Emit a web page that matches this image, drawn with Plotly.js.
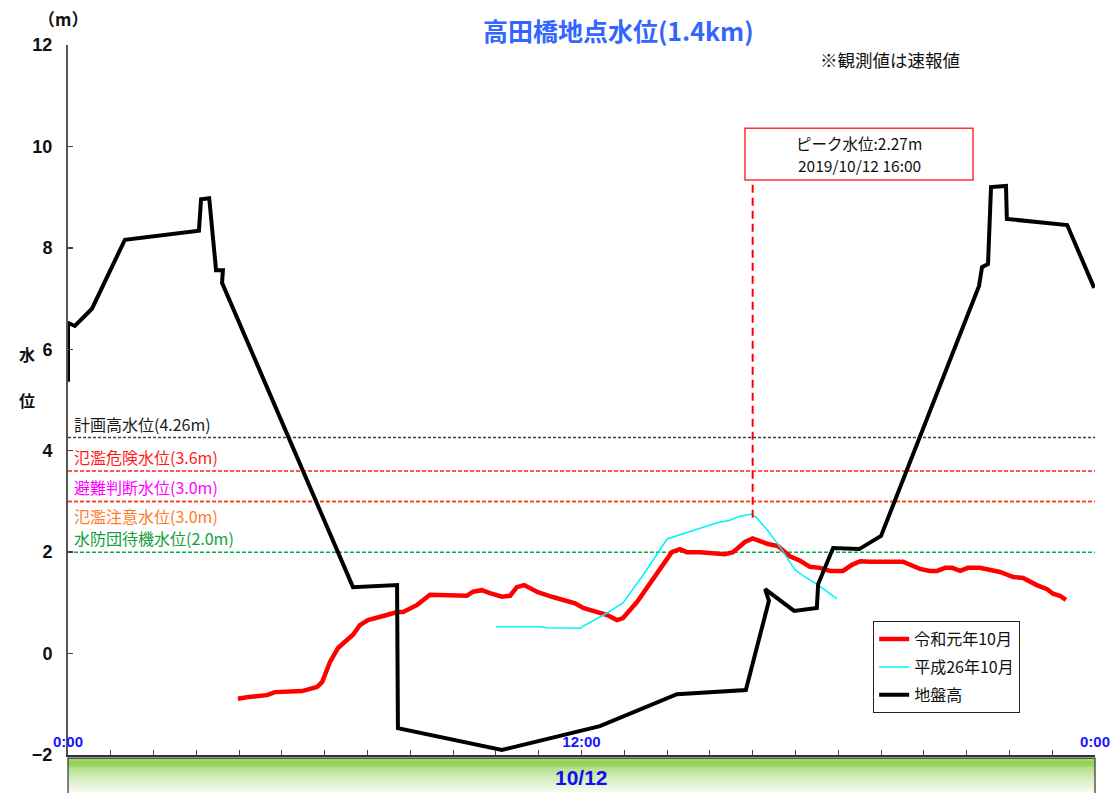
<!DOCTYPE html>
<html>
<head>
<meta charset="utf-8">
<script src="https://cdn.plot.ly/plotly-3.0.1.min.js"></script>
<style>html,body{margin:0;padding:0;background:#fff;}#chart{width:1118px;height:793px;}</style>
</head>
<body>
<div id="chart"></div>
<script>
// ---------- data ----------
const chartTitle = "高田橋地点水位(1.4km)";
const noteText = "※観測値は速報値";
const dateLabel = "10/12";

// 令和元年10月 (hours from 0:00, water level m)
const hoursReiwa = [3.97,4.18,4.65,4.84,5.47,5.82,5.94,6.12,6.31,6.66,6.82,7.01,7.45,7.69,7.83,8.16,8.46,8.69,8.86,9.32,9.47,9.67,9.86,10.14,10.33,10.49,10.66,10.98,11.31,11.66,11.85,12.04,12.36,12.60,12.83,12.97,13.30,13.60,13.91,14.11,14.30,14.46,14.77,15.07,15.35,15.54,15.66,15.82,16.00,16.17,16.36,16.59,16.87,17.11,17.34,17.57,17.81,18.11,18.32,18.51,18.74,19.51,19.63,19.91,20.14,20.31,20.50,20.66,20.85,21.03,21.31,21.78,22.09,22.32,22.64,22.88,23.02,23.18,23.32];
const levelReiwa = [-0.89,-0.86,-0.82,-0.76,-0.74,-0.66,-0.56,-0.17,0.11,0.37,0.56,0.66,0.76,0.82,0.82,0.96,1.16,1.16,1.14,1.14,1.22,1.25,1.19,1.12,1.14,1.31,1.35,1.21,1.12,1.04,0.99,0.90,0.82,0.76,0.66,0.70,1.02,1.39,1.79,2.00,2.06,2.00,2.00,1.98,1.96,2.00,2.08,2.20,2.27,2.22,2.16,2.12,1.92,1.83,1.71,1.69,1.63,1.63,1.75,1.82,1.81,1.81,1.77,1.67,1.63,1.63,1.69,1.69,1.63,1.69,1.69,1.61,1.51,1.49,1.35,1.27,1.18,1.14,1.06];

// 平成26年10月
const hoursHeisei = [10.0,11.03,11.2,11.97,12.04,12.27,12.60,12.97,13.44,14.0,14.30,14.77,15.17,15.47,15.66,15.98,16.1,16.34,16.64,16.99,17.22,17.50,17.97];
const levelHeisei = [0.53,0.53,0.51,0.50,0.54,0.64,0.80,1.00,1.55,2.26,2.34,2.47,2.58,2.63,2.70,2.75,2.67,2.44,2.10,1.65,1.51,1.37,1.08];

// 地盤高 (cross-section drawn on the same horizontal scale)
const groundX = [0,0,0.16,0.56,1.33,3.06,3.11,3.30,3.46,3.62,3.60,6.66,7.69,7.71,10.14,12.43,14.23,15.84,16.38,16.29,16.97,17.50,17.53,17.88,18.49,19.00,21.29,21.36,21.50,21.57,21.92,21.94,23.35,23.98];
const groundElevation = [5.36,6.52,6.46,6.80,8.16,8.34,8.96,8.98,7.56,7.56,7.31,1.31,1.35,-1.47,-1.90,-1.43,-0.80,-0.72,1.04,1.27,0.84,0.90,1.37,2.08,2.06,2.32,7.25,7.62,7.68,9.20,9.22,8.57,8.45,7.21];

const seriesNames = ["令和元年10月", "平成26年10月", "地盤高"];

// reference levels
const thresholdValues = [4.26, 3.6, 3.0, 3.0, 2.0];
const thresholdLabels = ["計画高水位(4.26m)", "氾濫危険水位(3.6m)", "避難判断水位(3.0m)", "氾濫注意水位(3.0m)", "水防団待機水位(2.0m)"];

// peak
const peakHour = 16;
const peakLevel = 2.27;
const peakLines = ["ピーク水位:" + peakLevel.toFixed(2) + "m", "2019/10/12 16:00"];

// axes
const xTickVals = [0,1,2,3,4,5,6,7,8,9,10,11,12,13,14,15,16,17,18,19,20,21,22,23,24];
const xTickText = ["0:00","","","","","","","","","","","","12:00","","","","","","","","","","","","0:00"];
const yTickVals = [-2,0,2,4,6,8,10,12];

// ---------- styles ----------
const jp = "Noto Sans CJK JP, sans-serif";
const lat = "Liberation Sans, Arial, sans-serif";
const thresholdLineColors = ["#444444", "#ff2020", "#ff4020", "#ff4020", "#00b050"];
const labelColors = ["#1a1a1a", "#ff1a1a", "#ff00ff", "#ff7a2a", "#10a040"];
const labelAbove = [true, true, true, false, true];

const traces = [
  {x: hoursReiwa, y: levelReiwa, name: seriesNames[0], mode: "lines", legendgroup: "a",
   line: {color: "#ff0000", width: 4.5}},
  {x: hoursHeisei, y: levelHeisei, name: seriesNames[1], mode: "lines", legendgroup: "b",
   line: {color: "#00f2ff", width: 1.5}},
  {x: groundX, y: groundElevation, name: seriesNames[2], mode: "lines", legendgroup: "c",
   line: {color: "#000000", width: 4}}
];

const shapes = [];
thresholdValues.forEach((v, i) => {
  shapes.push({type: "line", xref: "paper", x0: 0, x1: 1, yref: "y", y0: v, y1: v,
    layer: "below", line: {color: thresholdLineColors[i], width: 1.5, dash: i === 0 ? "3px,2px" : "4px,2px"}});
});
// peak marker line and callout box
shapes.push({type: "line", xref: "x", x0: peakHour, x1: peakHour, yref: "y", y0: 2.68, y1: 9.34,
  line: {color: "#ff0000", width: 2, dash: "8px,5px"}});
shapes.push({type: "rect", xref: "x", yref: "y", x0: 15.82, x1: 21.15, y0: 9.34, y1: 10.36,
  fillcolor: "#ffffff", line: {color: "#ff3030", width: 1.5}});

// date band below the axis (vertical gradient strips)
const bandTop = -0.0045, bandBottom = -0.0535, N = 36;
const c0 = [140, 205, 75], c1 = [250, 253, 248];
for (let i = 0; i < N; i++) {
  const t = i / (N - 1);
  const c = c0.map((a, k) => Math.round(a + (c1[k] - a) * Math.pow(t, 1.15)));
  const y0 = bandTop + (bandBottom - bandTop) * i / N;
  const y1 = bandTop + (bandBottom - bandTop) * (i + 1) / N;
  shapes.push({type: "rect", xref: "paper", yref: "paper", x0: 0, x1: 1, y0: y1, y1: y0,
    fillcolor: "rgb(" + c.join(",") + ")", line: {width: 0}, layer: "above"});
}
shapes.push({type: "rect", xref: "paper", yref: "paper", x0: 0, x1: 1, y0: bandBottom - 0.01, y1: bandTop,
  fillcolor: "rgba(0,0,0,0)", line: {color: "#333", width: 1.2}, layer: "above"});

const annotations = [];
thresholdValues.forEach((v, i) => {
  annotations.push({xref: "paper", x: 0, xshift: 4, xanchor: "left", yref: "y", y: v,
    yanchor: labelAbove[i] ? "bottom" : "top", yshift: labelAbove[i] ? 0 : -1,
    text: thresholdLabels[i], showarrow: false, font: {family: jp, size: 16, color: labelColors[i]}});
});
annotations.push({xref: "x", yref: "y", x: 18.49, y: 9.85, yshift: 11, xanchor: "center", yanchor: "middle",
  text: peakLines[0], showarrow: false, font: {family: jp, size: 15.5, color: "#111"}});
annotations.push({xref: "x", yref: "y", x: 18.49, y: 9.85, yshift: -11, xanchor: "center", yanchor: "middle",
  text: peakLines[1], showarrow: false, font: {family: jp, size: 15.5, color: "#111"}});
annotations.push({xref: "paper", yref: "paper", x: 0.800, y: 0.979, xanchor: "center", yanchor: "middle",
  text: noteText, showarrow: false, font: {family: jp, size: 17.5, color: "#111"}});
annotations.push({xref: "paper", yref: "paper", x: 0, xshift: -5, y: 1, yshift: 27, xanchor: "center",
  yanchor: "middle", text: "（m）", showarrow: false, font: {family: jp, size: 17, color: "#111", weight: 700}});
annotations.push({xref: "paper", yref: "paper", x: 0, xshift: -51, y: 0.565, text: "水", showarrow: false,
  font: {family: jp, size: 16, color: "#111", weight: 700}});
annotations.push({xref: "paper", yref: "paper", x: 0, xshift: -51, y: 0.500, text: "位", showarrow: false,
  font: {family: jp, size: 16, color: "#111", weight: 700}});
annotations.push({xref: "paper", yref: "paper", x: 0.5, y: -0.032, xanchor: "center", yanchor: "middle",
  text: dateLabel, showarrow: false, font: {family: lat, size: 21, color: "#1010ee", weight: 700}});

const layout = {
  width: 1118, height: 793,
  margin: {l: 68, r: 23, t: 45, b: 38, pad: 0},
  paper_bgcolor: "#ffffff", plot_bgcolor: "#ffffff",
  title: {text: chartTitle, xref: "container", x: 0.553, y: 0.959, yanchor: "middle",
    font: {family: jp, size: 25, color: "#3366ff", weight: 700}},
  showlegend: true,
  legend: {x: 0.7838, y: 0.1887, xanchor: "left", yanchor: "top", traceorder: "grouped",
    tracegroupgap: 4, bgcolor: "#ffffff", bordercolor: "#222", borderwidth: 1.2,
    font: {family: jp, size: 16, color: "#111"}, itemwidth: 30},
  xaxis: {range: [0, 24], tickmode: "array", tickvals: xTickVals, ticktext: xTickText,
    ticks: "inside", ticklen: 5, tickwidth: 1, tickcolor: "#444",
    ticklabelposition: "inside", ticklabeloverflow: "allow",
    tickfont: {family: lat, size: 15, color: "#1515ff", weight: 700},
    showline: true, linecolor: "#333", linewidth: 2, showgrid: false, zeroline: false,
    fixedrange: true},
  yaxis: {range: [-2, 12], tickmode: "array", tickvals: yTickVals,
    ticks: "inside", ticklen: 5, tickwidth: 1.5, tickcolor: "#444", ticklabelstandoff: 10,
    tickfont: {family: lat, size: 18, color: "#111", weight: 700},
    showline: true, linecolor: "#555", linewidth: 2, showgrid: false, zeroline: false,
    fixedrange: true},
  shapes: shapes,
  annotations: annotations
};

Plotly.newPlot("chart", traces, layout, {displayModeBar: false, staticPlot: true});
</script>
</body>
</html>
